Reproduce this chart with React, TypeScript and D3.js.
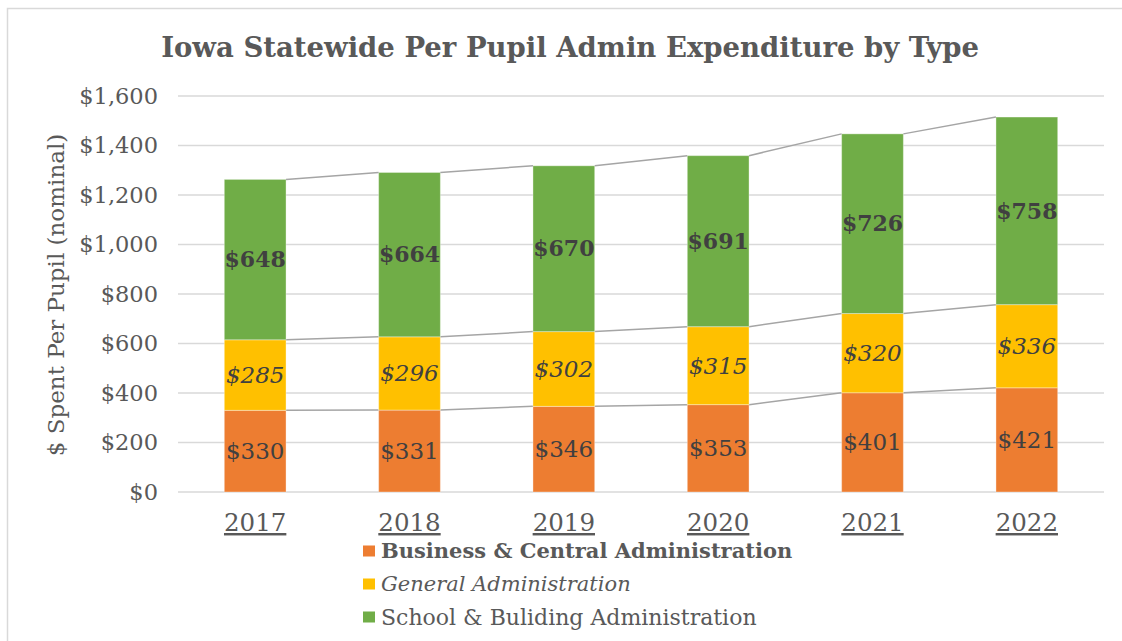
import React from 'react';
import * as d3 from 'd3';

const years = ['2017', '2018', '2019', '2020', '2021', '2022'];
const business = [330, 331, 346, 353, 401, 421];
const general = [285, 296, 302, 315, 320, 336];
const school = [648, 664, 670, 691, 726, 758];
const yTicks = [0, 200, 400, 600, 800, 1000, 1200, 1400, 1600];

const seriesNames = [
  'Business & Central Administration',
  'General Administration',
  'School & Buliding Administration',
];
const seriesColors = ['#ED7D31', '#FFC000', '#70AD47'];

const W = 1122;
const H = 641;
const FONT = '"DejaVu Serif", serif';
const TXT = '#595959';

const App = () => {
  const x = d3.scaleBand().domain(years).range([178, 1104]).paddingInner(0.6).paddingOuter(0.3);
  const y = d3.scaleLinear().domain([0, 1600]).range([492, 96]);

  const rows = years.map((yr, i) => ({ year: yr, business: business[i], general: general[i], school: school[i] }));
  const stacked = d3.stack<any>().keys(['business', 'general', 'school'])(rows);

  // label look per series: plain, italic, bold
  const labelStyles = [
    { weight: 'normal', style: 'normal', size: 23 },
    { weight: 'normal', style: 'italic', size: 23 },
    { weight: 'bold', style: 'normal', size: 22 },
  ];
  const legendSizes = [21, 21, 22];

  const bw = x.bandwidth();

  return (
    <svg width={W} height={H} style={{ position: 'absolute', left: 0, top: 0, background: '#fff' }} fontFamily={FONT}>
      <rect x={7.5} y={8.5} width={W} height={H} fill="#fff" stroke="#d9d9d9" strokeWidth={1.5} />
      <text x={570} y={57} textAnchor="middle" fontSize={27.5} fontWeight="bold" fill={TXT}>
        Iowa Statewide Per Pupil Admin Expenditure by Type
      </text>

      {yTicks.map((t) => (
        <g key={t}>
          <line x1={178} x2={1104} y1={y(t)} y2={y(t)} stroke="#d9d9d9" strokeWidth={1.5} />
          <text x={158} y={y(t)} dy="0.35em" textAnchor="end" fontSize={22.5} fill={TXT}>
            {d3.format('$,')(t)}
          </text>
        </g>
      ))}

      <text transform={`translate(64,295) rotate(-90)`} textAnchor="middle" fontSize={23} fill={TXT}>
        $ Spent Per Pupil (nominal)
      </text>

      {stacked.map((s, si) => (
        <g key={s.key}>
          {s.map((d, i) => (
            <rect key={i} x={x(years[i])} y={y(d[1])} width={bw} height={y(d[0]) - y(d[1])}
              fill={seriesColors[si]} stroke="#ffffff" strokeOpacity={0.35} strokeWidth={1} />
          ))}
          {s.slice(0, -1).map((d, i) => (
            <line key={'l' + i} x1={(x(years[i]) as number) + bw} y1={y(d[1])}
              x2={x(years[i + 1]) as number} y2={y(s[i + 1][1])} stroke="#a5a5a5" strokeWidth={1.5} />
          ))}
          {s.map((d, i) => (
            <text key={'t' + i} x={(x(years[i]) as number) + bw / 2} y={(y(d[0]) + y(d[1])) / 2} dy="0.35em"
              textAnchor="middle" fontSize={labelStyles[si].size} fontWeight={labelStyles[si].weight}
              fontStyle={labelStyles[si].style} fill="#404040">
              {'$' + (d[1] - d[0])}
            </text>
          ))}
        </g>
      ))}

      {years.map((yr) => (
        <text key={yr} x={(x(yr) as number) + bw / 2} y={531} textAnchor="middle" fontSize={24.5}
          fill={TXT} textDecoration="underline">
          {yr}
        </text>
      ))}

      {seriesNames.map((n, i) => (
        <g key={n} transform={`translate(363,${551 + i * 33})`}>
          <rect x={0} y={-5.5} width={12} height={11} fill={seriesColors[i]} />
          <text x={18} y={0} dy="0.35em" fontSize={legendSizes[i]} fill={TXT}
            fontWeight={i === 0 ? 'bold' : 'normal'} fontStyle={i === 1 ? 'italic' : 'normal'}>
            {n}
          </text>
        </g>
      ))}
    </svg>
  );
};

export default App;
